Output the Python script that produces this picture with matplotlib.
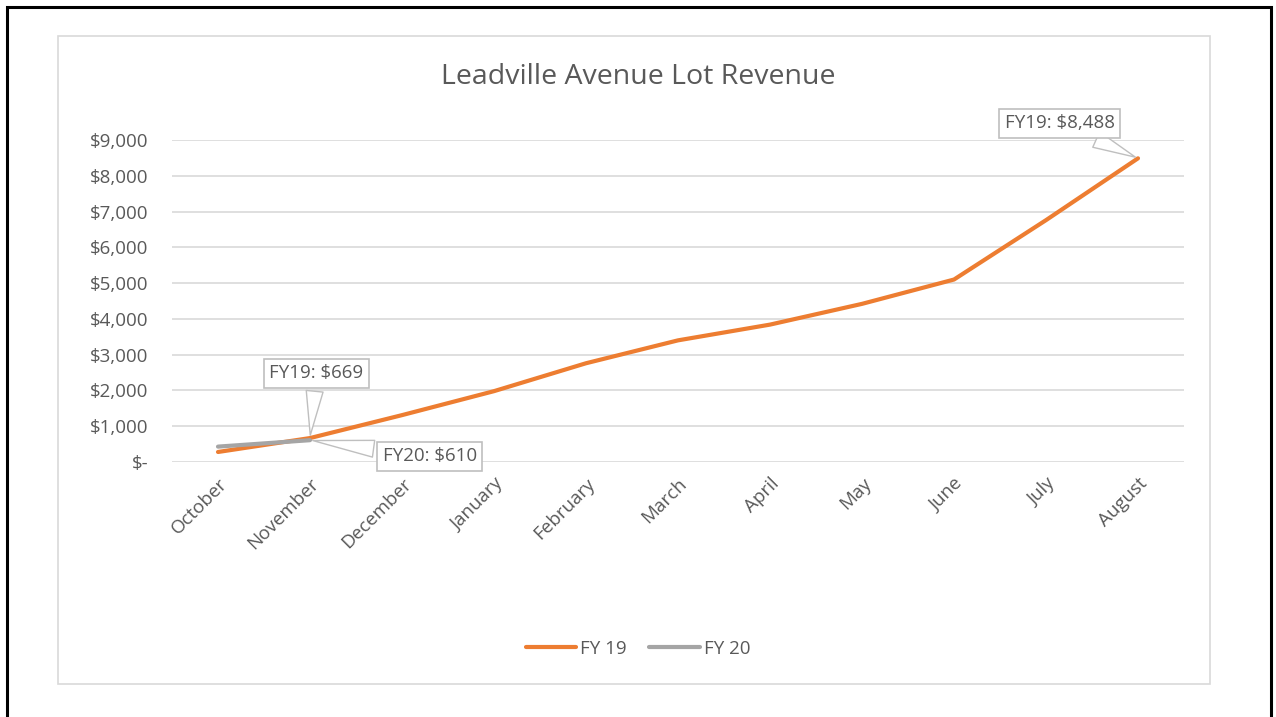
import matplotlib.pyplot as plt
from matplotlib.patches import Rectangle
from matplotlib.ticker import FuncFormatter

plt.rcParams['font.family'] = ['Open Sans', 'DejaVu Sans']

months = ['October', 'November', 'December', 'January', 'February', 'March',
          'April', 'May', 'June', 'July', 'August']
fy19 = [280, 669, 1310, 1980, 2760, 3400, 3840, 4420, 5100, 6760, 8488]
fy20 = [430, 610]

ORANGE = '#ED7D31'
GRAY = '#A5A5A5'
TEXT = '#595959'
GRID = '#D9D9D9'


def money(v, pos=None):
    if v == 0:
        return '$-'
    return '${:,.0f}'.format(v)


fig = plt.figure(figsize=(12.76, 7.17), dpi=100)

# outer black frame and inner chart-area border
fig.patches.append(Rectangle((7 / 1276, -0.05), 1264 / 1276, 1 - 7 / 717 + 0.05,
                             transform=fig.transFigure, fill=False,
                             ec='black', lw=2.2))
fig.patches.append(Rectangle((58 / 1276, 1 - 684 / 717), 1152 / 1276, 648 / 717,
                             transform=fig.transFigure, fill=False,
                             ec=GRID, lw=1.2))

ax = fig.add_axes([172 / 1276, 1 - 462 / 717, 1012 / 1276, 322 / 717])
x = list(range(len(months)))
ax.plot(x, fy19, color=ORANGE, lw=3, solid_capstyle='round', label='FY 19', zorder=3)
ax.plot(x[:len(fy20)], fy20, color=GRAY, lw=3, solid_capstyle='round', label='FY 20', zorder=3)

ax.set_xlim(-0.5, 10.5)
ax.set_ylim(0, 9000)
ax.set_yticks(range(0, 9001, 1000))
ax.yaxis.set_major_formatter(FuncFormatter(money))
ax.set_xticks(x)
ax.set_xticklabels(months, rotation=45, ha='right', rotation_mode='anchor')
ax.tick_params(axis='both', length=0, labelsize=13.5, labelcolor=TEXT)
ax.tick_params(axis='y', pad=17)
ax.tick_params(axis='x', pad=9)
ax.grid(axis='y', color=GRID, lw=1.2)
ax.set_axisbelow(True)
for s in ax.spines.values():
    s.set_visible(False)

fig.text(0.5, 1 - 77 / 717, 'Leadville Avenue Lot Revenue', ha='center', va='center',
         fontsize=20.5, color=TEXT)

box = dict(boxstyle='square,pad=0.3', fc='white', ec='#BFBFBF', lw=1.2)
wedge = dict(arrowstyle='wedge,tail_width=0.9,shrink_factor=0.5', fc='white',
             ec='#BFBFBF', lw=1)
ax.annotate('FY19: $669', xy=(1, fy19[1]), xytext=(1.07, 2480), ha='center', va='center',
            fontsize=13.5, color=TEXT, bbox=box, arrowprops=wedge, zorder=5)
ax.annotate('FY20: $610', xy=(1, fy20[1]), xytext=(2.3, 160), ha='center', va='center',
            fontsize=13.5, color=TEXT, bbox=box, arrowprops=wedge, zorder=5)
ax.annotate('FY19: $8,488', xy=(10, fy19[10]), xytext=(9.15, 9470), ha='center', va='center',
            fontsize=13.5, color=TEXT, bbox=box, arrowprops=wedge, zorder=5,
            annotation_clip=False)

fig.legend(loc='center', bbox_to_anchor=(0.5, 1 - 649 / 717), ncol=2, frameon=False,
           fontsize=13.5, labelcolor=TEXT, handlelength=2.7, handletextpad=0.2,
           columnspacing=1.2)

fig.savefig('out.png', dpi=100)
